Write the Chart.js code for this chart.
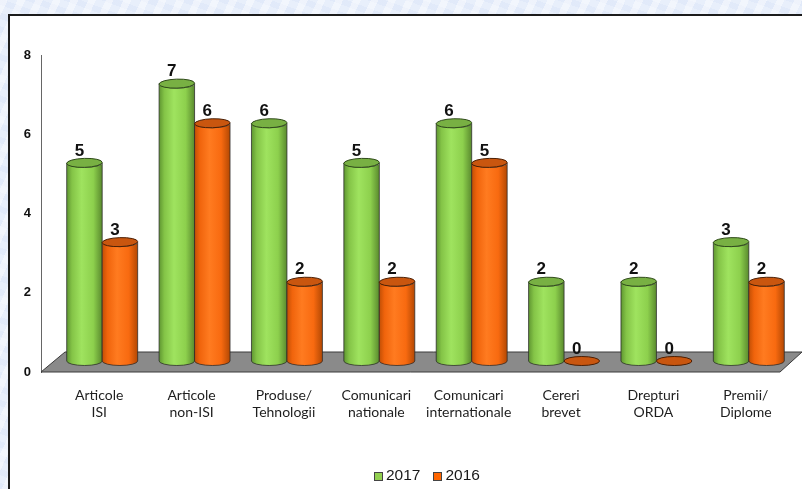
<!DOCTYPE html>
<html>
<head>
<meta charset="utf-8">
<script src="https://cdn.jsdelivr.net/npm/chart.js@4/dist/chart.umd.min.js"></script>
<style>
  html, body { margin: 0; padding: 0; }
  body {
    width: 802px; height: 489px; overflow: hidden; position: relative;
    background-color: #e8effb;
    background-image:
      repeating-linear-gradient(115deg, rgba(255,255,255,0.45) 0 7px, rgba(255,255,255,0) 7px 16px),
      repeating-linear-gradient(20deg, rgba(210,222,246,0.3) 0 6px, rgba(255,255,255,0) 6px 13px);
  }
  #frame {
    position: absolute; left: 8px; top: 14px; width: 820px; height: 500px;
    border: 2px solid #1c1c1c; background: #ffffff;
  }
  #wrap { position: absolute; left: 0; top: 0; width: 802px; height: 489px; }
  #legend {
    position: absolute; left: 374px; top: 466px; height: 18px;
    display: flex; align-items: center;
    font-family: "Liberation Sans", Arial, sans-serif; font-size: 15.5px; color: #1a1a1a;
  }
  #legend .item { display: flex; align-items: center; margin-right: 13px; }
  #legend .box { width: 7px; height: 7px; border: 1px solid #444; margin-right: 3px; margin-top: 3px; }
</style>
</head>
<body>
<div id="frame"></div>
<div id="wrap"><canvas id="chart"></canvas></div>
<div id="legend"></div>
<script>
// Categories and series values
const categories = [
  ['Articole', 'ISI'],
  ['Articole', 'non-ISI'],
  ['Produse/', 'Tehnologii'],
  ['Comunicari', 'nationale'],
  ['Comunicari', 'internationale'],
  ['Cereri', 'brevet'],
  ['Drepturi', 'ORDA'],
  ['Premii/', 'Diplome']
];
const seriesNames = ['2017', '2016'];
const values2017 = [5, 7, 6, 5, 6, 2, 2, 3];
const values2016 = [3, 6, 2, 2, 5, 0, 0, 2];
const yTicks = [0, 2, 4, 6, 8];

// Cylinder shading per series
const palettes = [
  { base: '#92d050', top: '#78b043', edge: '#2f4a1a',
    stops: ['#5f9631', '#84c447', '#9fe35f', '#8dd04d', '#5a8a2e'] },
  { base: '#ff6600', top: '#c9560f', edge: '#4a1f05',
    stops: ['#c24f05', '#f0640c', '#ff7b20', '#f86a10', '#b34803'] }
];

// Depth shift of the bars relative to the front plane, and floor depth
const DEPTH = { barDx: 15, barDy: -11, floorDx: 23, floorDy: -20 };

function drawCylinder(ctx, cx, topY, baseY, w, pal) {
  const rx = w / 2, ry = 4.5;
  ctx.save();
  ctx.lineWidth = 1;
  ctx.strokeStyle = pal.edge;
  if (baseY - topY < 0.5) {
    ctx.beginPath();
    ctx.ellipse(cx, baseY, rx, ry, 0, 0, Math.PI * 2);
    ctx.fillStyle = pal.top;
    ctx.fill();
    ctx.stroke();
    ctx.restore();
    return;
  }
  const g = ctx.createLinearGradient(cx - rx, 0, cx + rx, 0);
  const pos = [0, 0.15, 0.42, 0.75, 1];
  pal.stops.forEach((c, i) => g.addColorStop(pos[i], c));
  ctx.beginPath();
  ctx.moveTo(cx - rx, topY);
  ctx.lineTo(cx - rx, baseY);
  ctx.ellipse(cx, baseY, rx, ry, 0, Math.PI, 0, true);
  ctx.lineTo(cx + rx, topY);
  ctx.ellipse(cx, topY, rx, ry, 0, 0, Math.PI, false);
  ctx.closePath();
  ctx.fillStyle = g;
  ctx.fill();
  ctx.strokeStyle = 'rgba(40,40,40,0.75)';
  ctx.stroke();
  ctx.beginPath();
  ctx.ellipse(cx, topY, rx, ry, -0.03, 0, Math.PI * 2);
  ctx.fillStyle = pal.top;
  ctx.fill();
  ctx.strokeStyle = pal.edge;
  ctx.stroke();
  ctx.restore();
}

const cylinderPlugin = {
  id: 'cylinders',
  beforeDatasetsDraw(chart) {
    const { ctx, chartArea: a } = chart;
    // grey floor under the bars
    ctx.save();
    ctx.beginPath();
    ctx.moveTo(a.left, a.bottom);
    ctx.lineTo(a.right, a.bottom);
    ctx.lineTo(a.right + DEPTH.floorDx - 1, a.bottom + DEPTH.floorDy);
    ctx.lineTo(a.left + DEPTH.floorDx + 1, a.bottom + DEPTH.floorDy);
    ctx.closePath();
    ctx.fillStyle = '#8a8a8a';
    ctx.fill();
    ctx.lineWidth = 1;
    ctx.strokeStyle = '#3a3a3a';
    ctx.stroke();
    ctx.restore();
  },
  beforeDatasetDraw() {
    return false; // bars are painted as cylinders below
  },
  afterDatasetsDraw(chart) {
    const ctx = chart.ctx;
    const metas = chart.data.datasets.map((d, i) => chart.getDatasetMeta(i));
    const n = chart.data.labels.length;
    for (let i = 0; i < n; i++) {
      metas.forEach((meta, di) => {
        const el = meta.data[i];
        const p = el.getProps(['x', 'y', 'base', 'width'], true);
        const cx = p.x + DEPTH.barDx;
        const top = p.y + DEPTH.barDy;
        const base = p.base + DEPTH.barDy;
        drawCylinder(ctx, cx, top, base, p.width, palettes[di]);
        const v = chart.data.datasets[di].data[i];
        ctx.save();
        ctx.font = 'bold 17px "Liberation Sans", Arial, sans-serif';
        ctx.fillStyle = '#111';
        ctx.textAlign = 'center';
        ctx.textBaseline = 'middle';
        ctx.fillText(String(v), cx - 5, top - 12);
        ctx.restore();
      });
    }
  }
};

new Chart(document.getElementById('chart'), {
  type: 'bar',
  data: {
    labels: categories,
    datasets: [
      { label: seriesNames[0], data: values2017, backgroundColor: palettes[0].base },
      { label: seriesNames[1], data: values2016, backgroundColor: palettes[1].base }
    ]
  },
  options: {
    responsive: true,
    maintainAspectRatio: false,
    animation: false,
    events: [],
    categoryPercentage: 0.768,
    barPercentage: 1,
    layout: { padding: { left: 0, top: 55, right: 22, bottom: 0 } },
    plugins: { legend: { display: false }, tooltip: { enabled: false } },
    scales: {
      x: {
        grid: { display: false, drawTicks: false },
        border: { display: false },
        ticks: {
          color: '#1e1e1e',
          padding: 15,
          labelOffset: 12,
          maxRotation: 0,
          autoSkip: false,
          font: { family: 'Lato, "Open Sans", sans-serif', size: 14, lineHeight: 1.22 }
        },
        afterFit(s) { s.height = 117; }
      },
      y: {
        min: 0,
        max: 8,
        afterBuildTicks(s) { s.ticks = yTicks.map(v => ({ value: v })); },
        grid: { display: false, drawTicks: false },
        border: { display: true, color: '#666', width: 1 },
        ticks: {
          color: '#111',
          padding: 10,
          font: { family: '"Liberation Sans", Arial, sans-serif', size: 13, weight: 'bold' }
        },
        afterFit(s) { s.width = 41; }
      }
    }
  },
  plugins: [cylinderPlugin]
});

// Legend built from the series names and colours
const legend = document.getElementById('legend');
seriesNames.forEach((name, i) => {
  const item = document.createElement('div');
  item.className = 'item';
  const box = document.createElement('span');
  box.className = 'box';
  box.style.background = palettes[i].base;
  const txt = document.createElement('span');
  txt.textContent = name;
  item.appendChild(box);
  item.appendChild(txt);
  legend.appendChild(item);
});
</script>
</body>
</html>
